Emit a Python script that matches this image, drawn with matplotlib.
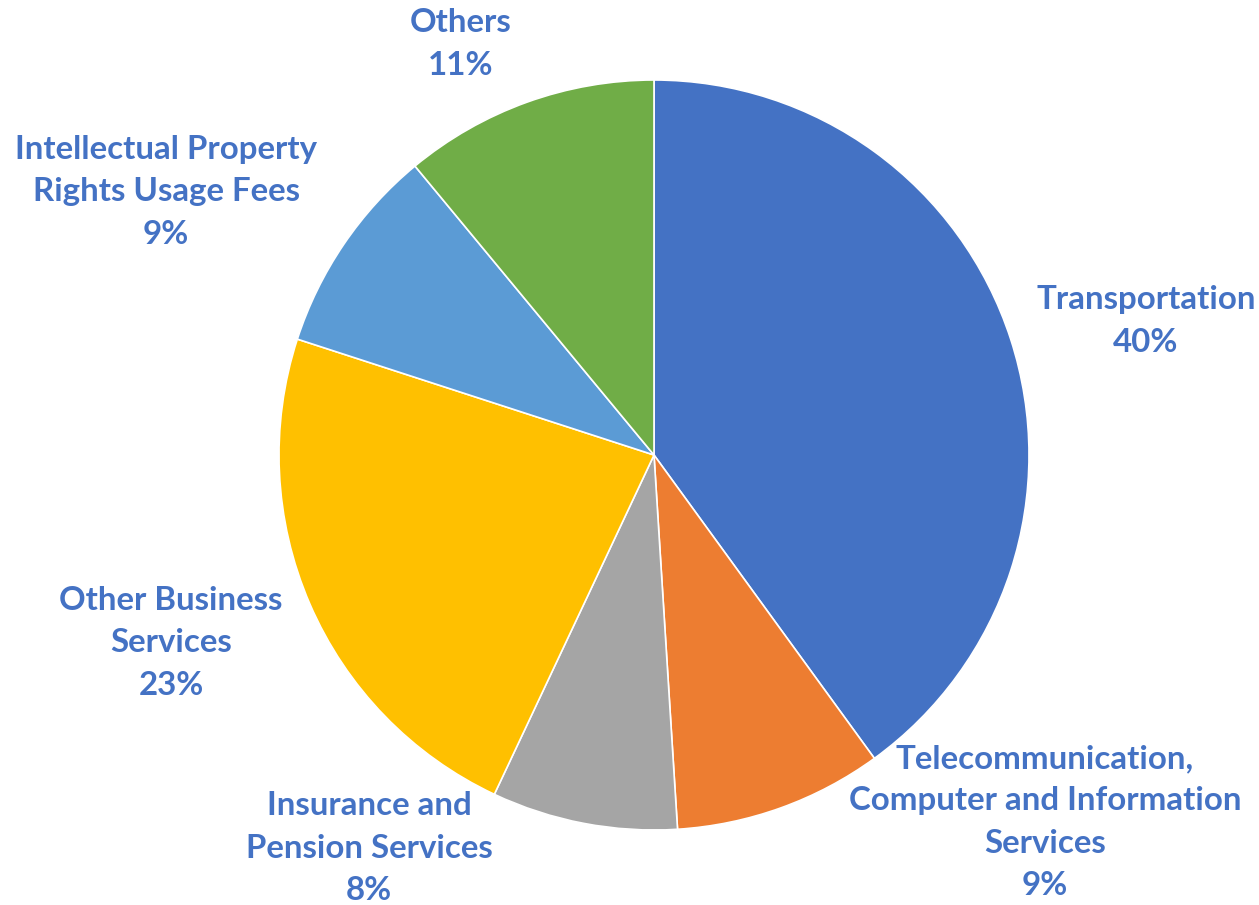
import matplotlib.pyplot as plt

# ====== DATA ======
categories = [
    "Transportation",
    "Telecommunication,\nComputer and Information\nServices",
    "Insurance and\nPension Services",
    "Other Business\nServices",
    "Intellectual Property\nRights Usage Fees",
    "Others",
]
shares = [40, 9, 8, 23, 9, 11]
colors = ["#4472C4", "#ED7D31", "#A5A5A5", "#FFC000", "#5B9BD5", "#70AD47"]

# label centres in pixels (x, y from top) of a 1259x905 canvas
label_px = [(1146, 321), (1045, 822), (369, 848), (171, 643), (166, 192), (461, 44)]

W, H = 1259, 905
CX, CY, R = 654, 455, 375

fig = plt.figure(figsize=(W / 100, H / 100), dpi=100)
ax = fig.add_axes([0, 0, 1, 1])
ax.pie(shares, colors=colors, startangle=90, counterclock=False, radius=1,
       wedgeprops=dict(edgecolor="white", linewidth=1.2))
ax.set_xlim(-CX / R, (W - CX) / R)
ax.set_ylim(-(H - CY) / R, CY / R)
ax.set_aspect("equal")
ax.axis("off")

for name, val, (px, py) in zip(categories, shares, label_px):
    ax.text((px - CX) / R, (CY - py) / R, f"{name}\n{val}%",
            ha="center", va="center", fontsize=23.8, fontweight="bold",
            family=["Lato", "DejaVu Sans"], color="#4472C4", linespacing=1.56)

fig.savefig("out.png", dpi=100)
